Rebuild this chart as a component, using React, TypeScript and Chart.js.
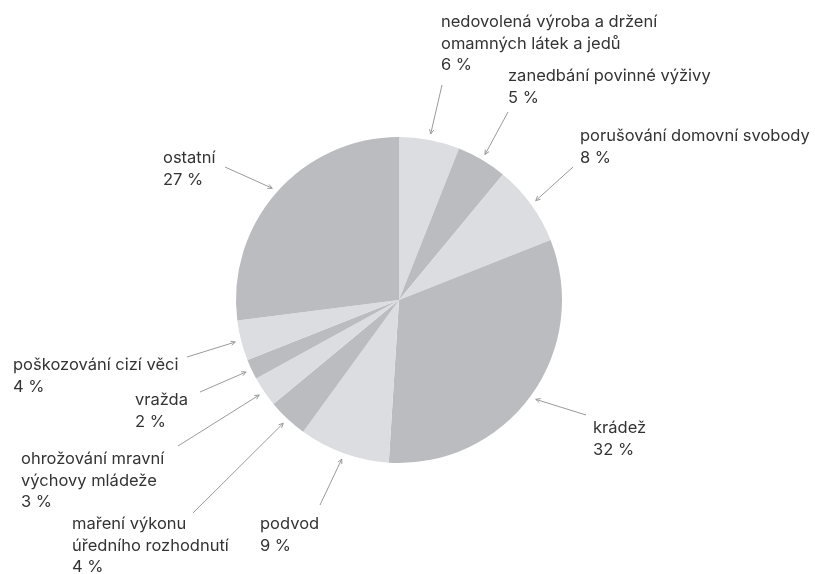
import React, { useEffect, useRef } from "react";
import { Chart, registerables } from "chart.js";

Chart.register(...registerables);

// Categories (each split into displayed lines), in clockwise order starting at 12 o'clock
const categories: string[][] = [
  ["nedovolená výroba a držení", "omamných látek a jedů"],
  ["zanedbání povinné výživy"],
  ["porušování domovní svobody"],
  ["krádež"],
  ["podvod"],
  ["maření výkonu", "úředního rozhodnutí"],
  ["ohrožování mravní", "výchovy mládeže"],
  ["vražda"],
  ["poškozování cizí věci"],
  ["ostatní"],
];

// Shares in percent
const values: number[] = [6, 5, 8, 32, 9, 4, 3, 2, 4, 27];

// Slice colours (alternating light / dark grey)
const sliceColors: string[] = [
  "#dcdde0", "#bbbcc0", "#dcdde0", "#bbbcc0", "#dcdde0",
  "#bbbcc0", "#dcdde0", "#bbbcc0", "#dcdde0", "#bbbcc0",
];

// Label layout: text left x, first baseline y
const labelTextPos: number[][] = [
  [441, 27], [508, 81], [580, 141], [593, 433], [260, 529],
  [72, 529], [21, 464], [135, 405], [13, 370], [163, 163],
];
// Leader line tail (text end) positions
const labelTailPos: number[][] = [
  [442, 85], [508, 112], [573, 167], [586, 415], [320, 505],
  [193, 513], [178, 446], [200, 392], [187, 357], [225, 167],
];

const LINE_H = 21.5;

const labelPlugin = {
  id: "calloutLabels",
  afterDraw(chart: any) {
    const ctx = chart.ctx as CanvasRenderingContext2D;
    const meta = chart.getDatasetMeta(0);
    ctx.save();
    meta.data.forEach((arc: any, i: number) => {
      const p = arc.getProps(["x", "y", "startAngle", "endAngle", "outerRadius"], true);
      const mid = (p.startAngle + p.endAngle) / 2;
      const hx = p.x + Math.cos(mid) * (p.outerRadius + 6);
      const hy = p.y + Math.sin(mid) * (p.outerRadius + 6);
      const [tx, ty] = labelTailPos[i];
      // line
      ctx.strokeStyle = "#9a9a9a";
      ctx.lineWidth = 1;
      ctx.beginPath();
      ctx.moveTo(tx, ty);
      ctx.lineTo(hx, hy);
      ctx.stroke();
      // arrow head
      const ang = Math.atan2(hy - ty, hx - tx);
      const ah = 5;
      const spread = 0.45;
      ctx.beginPath();
      ctx.moveTo(hx - Math.cos(ang - spread) * ah, hy - Math.sin(ang - spread) * ah);
      ctx.lineTo(hx, hy);
      ctx.lineTo(hx - Math.cos(ang + spread) * ah, hy - Math.sin(ang + spread) * ah);
      ctx.stroke();
      // text
      ctx.fillStyle = "#333333";
      ctx.font = '16.5px "Inter", "Noto Sans", sans-serif';
      ctx.textAlign = "left";
      ctx.textBaseline = "alphabetic";
      const lines = [...categories[i], `${values[i]} %`];
      const [lx, ly] = labelTextPos[i];
      lines.forEach((t, k) => ctx.fillText(t, lx, ly + k * LINE_H));
    });
    ctx.restore();
  },
};

export default function App() {
  const ref = useRef<HTMLCanvasElement | null>(null);
  useEffect(() => {
    if (!ref.current) return;
    const chart = new Chart(ref.current, {
      type: "pie",
      data: {
        labels: categories.map((c) => c.join(" ")),
        datasets: [
          {
            data: values,
            backgroundColor: sliceColors,
            borderWidth: 0,
          },
        ],
      },
      options: {
        responsive: false,
        animation: false,
        devicePixelRatio: 1,
        layout: { padding: { left: 236, right: 253, top: 137, bottom: 111 } },
        plugins: {
          legend: { display: false },
          tooltip: { enabled: false },
        },
      },
      plugins: [labelPlugin],
    });
    return () => chart.destroy();
  }, []);
  return (
    <div style={{ position: "fixed", left: 0, top: 0, width: 815, height: 574, background: "#fff" }}>
      <canvas ref={ref} width={815} height={574} />
    </div>
  );
}
